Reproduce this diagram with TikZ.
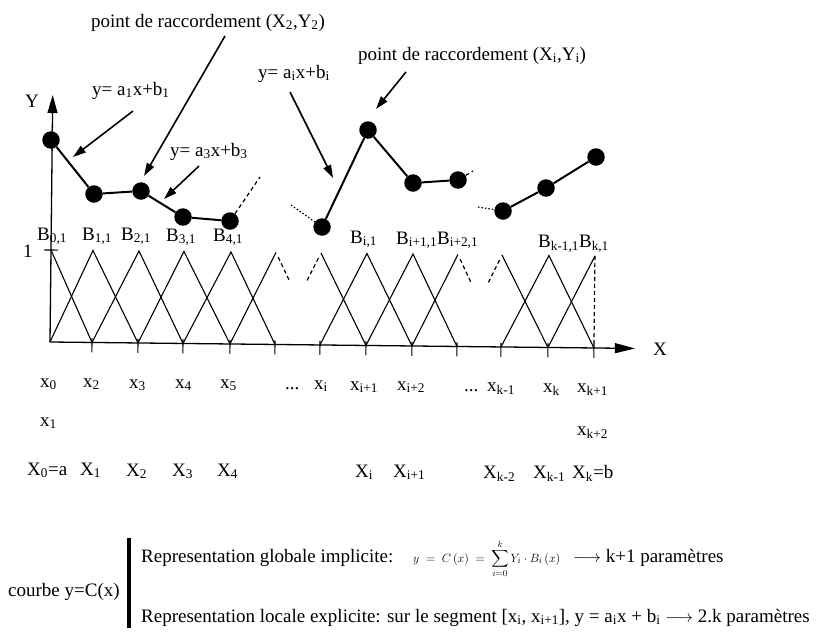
\documentclass[tikz,border=0pt]{standalone}
\usepackage{amsmath}
\usepackage{fontspec}
\setmainfont{Liberation Serif}
\usetikzlibrary{arrows.meta,calc}
\newcommand{\sbx}[1]{\textsubscript{#1}}
\begin{document}
\begin{tikzpicture}[x=1pt,y=-1pt,
  lbl/.style={anchor=base west, inner sep=0pt, font=\fontsize{19}{21}\selectfont},
  big/.style={anchor=base west, inner sep=0pt, font=\fontsize{19}{21}\selectfont},
  dot/.style={circle, fill=black, inner sep=0pt, minimum size=17.5pt},
  seg/.style={line width=2pt},
  lead/.style={line width=1.6pt, -{Triangle[length=13pt,width=8pt]}},
  tri/.style={line width=1.1pt},
  dsh/.style={line width=1.2pt, dash pattern=on 4pt off 3pt},
  dtt/.style={line width=1.2pt, dash pattern=on 1.5pt off 2pt},
]
\useasboundingbox[fill=white] (0,0) rectangle (821,632);

% ---- axes and basis functions (scan slightly tilted) ----
\begin{scope}[rotate around={-0.63:(50,342)}]
\foreach \n/\x in {0/50,1/92,2/138,3/183,4/230,5/275,6/320,7/366,8/412,9/457,10/501,11/548,12/594} {
  \coordinate (t\n) at (\x,342);
  \coordinate (h\n) at (\x,250);
}
\coordinate (xend) at (635,342);
\coordinate (yend) at (50,95);
\draw[tri] (h0) -- (t1);
\draw[tri] (t0) -- (h1) -- (t2);
\draw[tri] (t1) -- (h2) -- (t3);
\draw[tri] (t2) -- (h3) -- (t4);
\draw[tri] (t3) -- (h4) -- (t5);
\draw[tri] (t4) -- (h5);
\draw[dsh] ($(h5)!0.05!(t6)$) -- ($(h5)!0.3!(t6)$);
\draw[dsh] ($(t5)!0.7!(h6)$) -- ($(t5)!0.95!(h6)$);
\draw[tri] (h6) -- (t7);
\draw[tri] (t6) -- (h7) -- (t8);
\draw[tri] (t7) -- (h8) -- (t9);
\draw[tri] (t8) -- (h9);
\draw[dsh] ($(h9)!0.05!(t10)$) -- ($(h9)!0.3!(t10)$);
\draw[dsh] ($(t9)!0.7!(h10)$) -- ($(t9)!0.95!(h10)$);
\draw[tri] (h10) -- (t11);
\draw[tri] (t10) -- (h11) -- (t12);
\draw[tri] (t11) -- (h12);
\draw[dsh] (h12) -- (t12);
\foreach \n in {1,...,12} \draw[tri] ($(t\n)+(0,-4)$) -- ($(t\n)+(0,10)$);
\draw[tri] ($(h0)+(-7,0)$) -- ($(h0)+(7,0)$);
\draw[line width=1.3pt, -{Triangle[length=20pt,width=10pt]}] (t0) -- (xend);
\draw[line width=1.3pt, -{Triangle[length=18pt,width=10pt]}] (t0) -- (yend);
\end{scope}

% ---- piecewise linear curve ----
\node[dot] (p0) at (51,140) {};
\node[dot] (p1) at (94,194) {};
\node[dot] (p2) at (141,191) {};
\node[dot] (p3) at (183,217) {};
\node[dot] (p4) at (230,221) {};
\node[dot] (p5) at (322,227) {};
\node[dot] (p6) at (368,130) {};
\node[dot] (p7) at (413,183) {};
\node[dot] (p8) at (458,180) {};
\node[dot] (p9) at (503,211) {};
\node[dot] (p10) at (546,188) {};
\node[dot] (p11) at (596,157) {};
\draw[seg] (p0) -- (p1) -- (p2) -- (p3) -- (p4);
\draw[seg] (p5) -- (p6) -- (p7) -- (p8);
\draw[seg] (p9) -- (p10) -- (p11);
\coordinate (d4) at (260,177);
\coordinate (d8) at (473,171);
\coordinate (d5) at (291,205);
\coordinate (d9) at (478,207);
\draw[dsh] (p4) -- (d4);
\draw[dsh] (p8) -- (d8);
\draw[dtt] (d5) -- (p5);
\draw[dtt] (d9) -- (p9);

% ---- leader arrows ----
\coordinate (a1s) at (133,111); \coordinate (a1e) at (73,157);
\coordinate (a2s) at (225,36);  \coordinate (a2e) at (144,176);
\coordinate (a3s) at (199,166); \coordinate (a3e) at (164,199);
\coordinate (a4s) at (290,92);  \coordinate (a4e) at (333,178);
\coordinate (a5s) at (406,72);  \coordinate (a5e) at (376,109);
\draw[lead] (a1s) -- (a1e);
\draw[lead] (a2s) -- (a2e);
\draw[lead] (a3s) -- (a3e);
\draw[lead] (a4s) -- (a4e);
\draw[lead] (a5s) -- (a5e);

% ---- top labels ----
\node[lbl] (T1) at (91,27) {point de raccordement (X\sbx{2},Y\sbx{2})};
\node[lbl] (T2) at (358,60) {point de raccordement (X\sbx{i},Y\sbx{i})};
\node[lbl] (T3) at (92,95) {y= a\sbx{1}x+b\sbx{1}};
\node[lbl] (T4) at (170,156) {y= a\sbx{3}x+b\sbx{3}};
\node[lbl] (T5) at (258,78) {y= a\sbx{i}x+b\sbx{i}};
\node[lbl] (Ylab) at (25,107) {Y};
\node[lbl] (one) at (23,257) {1};
\node[lbl] (Xlab) at (653,355) {X};

% ---- basis labels ----
\node[lbl] (B0) at (37,240) {B\sbx{0,1}};
\node[lbl] (B1) at (82,240) {B\sbx{1,1}};
\node[lbl] (B2) at (121,240) {B\sbx{2,1}};
\node[lbl] (B3) at (166,241) {B\sbx{3,1}};
\node[lbl] (B4) at (213,241) {B\sbx{4,1}};
\node[lbl] (Bi) at (350,243) {B\sbx{i,1}};
\node[lbl] (Bi1) at (396,244) {B\sbx{i+1,1}B\sbx{i+2,1}};
\node[lbl] (Bk) at (538,247) {B\sbx{k-1,1}B\sbx{k,1}};

% ---- knot labels ----
\node[lbl] (x0) at (40,387) {x\sbx{0}};
\node[lbl] (x2) at (83,387) {x\sbx{2}};
\node[lbl] (x3) at (129,388) {x\sbx{3}};
\node[lbl] (x4) at (175,388) {x\sbx{4}};
\node[lbl] (x5) at (220,388) {x\sbx{5}};
\node[lbl] (e1) at (285,389) {...};
\node[lbl] (xi) at (314,389) {x\sbx{i}};
\node[lbl] (xi1) at (350,390) {x\sbx{i+1}};
\node[lbl] (xi2) at (397,390) {x\sbx{i+2}};
\node[lbl] (e2) at (464,391) {...};
\node[lbl] (xkm) at (487,391) {x\sbx{k-1}};
\node[lbl] (xk) at (543,392) {x\sbx{k}};
\node[lbl] (xk1) at (577,392) {x\sbx{k+1}};
\node[lbl] (x1) at (40,426) {x\sbx{1}};
\node[lbl] (xk2) at (577,435) {x\sbx{k+2}};

\node[lbl] (X0) at (27,475) {X\sbx{0}=a};
\node[lbl] (X1) at (80,475) {X\sbx{1}};
\node[lbl] (X2) at (126,476) {X\sbx{2}};
\node[lbl] (X3) at (172,476) {X\sbx{3}};
\node[lbl] (X4) at (217,476) {X\sbx{4}};
\node[lbl] (Xi) at (355,477) {X\sbx{i}};
\node[lbl] (Xi1) at (393,477) {X\sbx{i+1}};
\node[lbl] (Xk2) at (483,478) {X\sbx{k-2}};
\node[lbl] (Xk1) at (533,478) {X\sbx{k-1}};
\node[lbl] (Xk) at (572,478) {X\sbx{k}=b};

% ---- bottom text ----
\node[big] (cb) at (8,596) {courbe y=C(x)};
\coordinate (bt) at (129,538);
\coordinate (bb) at (129,628);
\draw[line width=3.5pt] (bt) -- (bb);
\node[big] (g) at (141,562) {Representation globale implicite:};
\node[anchor=base west, inner sep=0pt, font=\fontsize{13}{15}\selectfont] (f) at (413,562)
  {$\displaystyle y \;=\; C\,(x) \;=\; \sum_{i=0}^{k} Y_i\cdot B_i\,(x)$};
\node[big] (pk) at (573,562) {$\longrightarrow$ k+1 paramètres};
\node[big] (l) at (141,622) {Representation locale explicite: sur le segment [x\sbx{i}, x\sbx{i+1}], y = a\sbx{i}x + b\sbx{i} $\longrightarrow$ 2.k paramètres};
\end{tikzpicture}
\end{document}
